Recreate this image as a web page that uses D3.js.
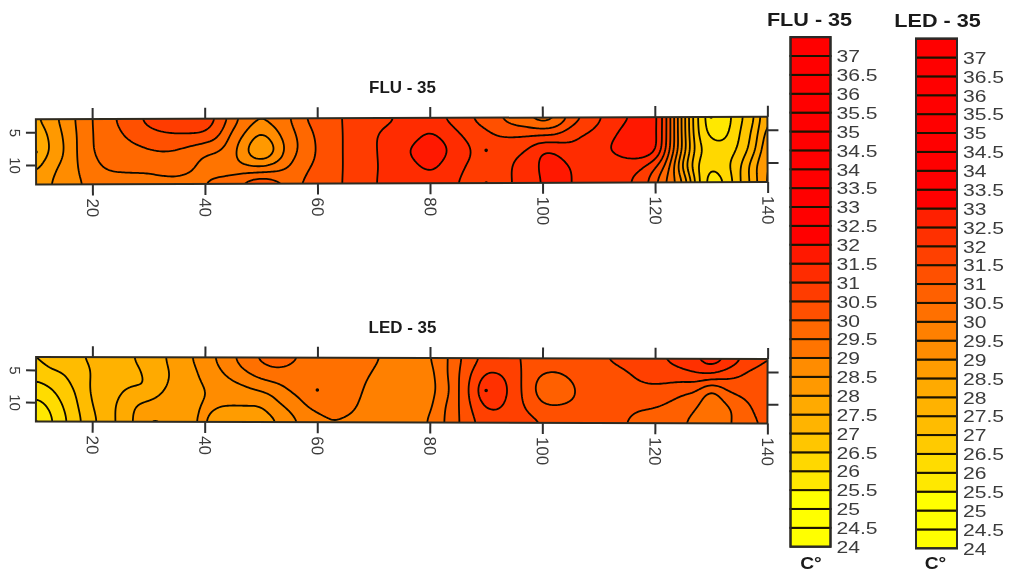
<!DOCTYPE html>
<html><head><meta charset="utf-8">
<script src="https://cdn.jsdelivr.net/npm/d3@7"></script>
<style>
html,body{margin:0;padding:0;background:#fff}
svg{display:block;filter:blur(.55px)}
text{font-family:"Liberation Sans",Arial,sans-serif;fill:#3c3c3c}
.b{font-weight:bold;fill:#1a1a1a}
</style></head><body><svg id="c" width="1011" height="573"></svg>
<script>
const xStart = 10, xStep = 2.5, depths = [3, 5.5, 8, 10.5, 13];
const xTicks = [20, 40, 60, 80, 100, 120, 140];
const yTicks = [5, 10];
const levels = [24,24.5,25,25.5,26,26.5,27,27.5,28,28.5,29,29.5,30,30.5,31,31.5,32,32.5,33,33.5,34,34.5,35,35.5,36,36.5,37];
const fluBands = ["#ffff00","#ffff00","#ffff00","#ffe800","#ffd800","#ffc600","#ffb400","#ffaa00","#ff9900","#ff8c00","#ff7400","#ff6800","#ff5000","#ff3c00","#ff2c00","#ff1800","#ff0000","#ff0000","#ff0000","#ff0000","#ff0000","#ff0000","#ff0000","#ff0000","#ff0000","#ff0000","#ff0000"];
const ledBands = ["#ffff00","#ffff00","#ffff00","#ffe800","#ffdc00","#ffca00","#ffbc00","#ffb200","#ffaa00","#ff9c00","#ff8c00","#ff8000","#ff7000","#ff6000","#ff5000","#ff4000","#ff3000","#ff2000","#ff0000","#ff0000","#ff0000","#ff0000","#ff0000","#ff0000","#ff0000","#ff0000","#ff0000"];

const fluRow0 = [27.9,28.3,28.65,29.1,29.5,29.8,30.1,30.35,30.65,30.85, 30.9,30.9,30.8,30.4,29.75,29.25,29.05,29.2,29.45,29.95, 30.2,30.35,30.55,30.7,30.8,30.95,31.05,31.2,31.25,31, 30.75,30.5,30.25,30,29.7,29.5,29.2,29.45,30.15,30.57, 30.93,31.2,31.45,31.7,31.75,30.2,28.3,26.5,25.7,25.7, 26.4,26.85,28.1];
const fluRow1 = [27.6,28.1,28.55,29.05,29.5,29.7,29.95,30.15,30.3,30.4, 30.45,30.45,30.4,30.05,29.35,28.9,28.4,28.85,29.3,29.7, 30.1,30.3,30.55,30.75,30.95,31.1,31.1,31.35,31.55,31.35, 31.05,30.8,30.6,30.45,30.4,30.4,30.4,30.48,30.8,31, 31.15,31.4,31.7,31.9,31.7,30.2,28.3,26.55,25.85,25.85, 26.5,27.1,28.3];
const fluRow2 = [27.55,28.05,28.5,29.05,29.5,29.6,29.75,29.85,29.95,30, 29.95,29.8,29.6,29.5,29.15,28.5,28,28.5,29.25,29.65, 30.05,30.3,30.55,30.75,30.95,31.15,31.35,31.65,31.85,31.6, 31.25,31,30.7,30.75,30.85,31.05,31.48,31.4,31.15,31.2, 31.35,31.55,31.8,31.9,31.65,30.1,28.35,26.7,26.25,26.2, 26.6,27.3,28.5];
const fluRow3 = [27.9,28.35,28.65,29,29.35,29.55,29.6,29.6,29.62,29.7, 29.7,29.55,29.35,29.25,29.2,29.1,29.05,29.25,29.52,29.9, 30.1,30.3,30.55,30.75,30.95,31.1,31.2,31.4,31.65,31.35, 31.1,30.9,30.75,30.8,31.05,31.25,31.6,31.7,31.48,31.3, 31.25,31.2,31.2,31.1,30.6,29.6,27.85,26.5,26.05,26.35, 26.9,27.8,28.6];
const fluRow4 = [28.2,28.5,28.7,28.95,29.1,29.2,29.25,29.3,29.3,29.32, 29.35,29.35,29.5,29.7,29.85,30.2,30.45,30.2,29.95,30.02, 30.2,30.35,30.55,30.75,30.95,31.15,31.15,31.1,31.15,31.1, 31,30.85,30.75,30.8,31.05,31.2,31.55,31.65,31.5,31.4, 31.35,31.2,31.05,30.8,30.1,29.3,28.55,26.7,25.7,26.05, 26.95,27.7,28.7];

const ledRow0 = [27,27.2,27.35,27.47,27.55,27.65,27.75,28.03,28.2,28.45, 28.7,28.98,29.25,29.6,29.95,30.3,30.6,30.7,30.6,30.45, 30.4,30.35,30.3,30.2,30.05,29.95,29.85,29.8,29.98,30.35, 30.9,31.3,31.65,31.6,31.53,31.45,31.4,31.35,31.35,31.38, 31.45,31.55,31.65,31.75,31.92,32.05,32.25,32.5,32.8,32.5, 32.05,31.8,31.52];
const ledRow1 = [26.7,26.9,27,27.3,27.53,27.65,27.8,27.9,28.1,28.4, 28.6,28.85,29.15,29.4,29.7,29.95,30.2,30.35,30.35,30.3, 30.25,30.22,30.2,30.1,29.97,29.8,29.65,29.7,29.85,30.35, 30.95,31.55,32.05,32.02,31.7,31.3,30.97,30.92,31.1,31.2, 31.28,31.35,31.45,31.6,31.7,31.75,31.8,31.9,31.92,31.7, 31.53,31.3,31.2];
const ledRow2 = [26.25,26.45,26.8,27.1,27.6,27.7,27.95,28.05,28.05,28.48, 28.65,28.8,29,29.1,29.25,29.4,29.55,29.7,30.03,30.2, 30.3,30.3,30.25,30.05,29.85,29.7,29.65,29.7,29.85,30.25, 30.95,31.7,32.4,32.25,31.75,31.25,30.75,30.6,30.9,31.15, 31.22,31.28,31.3,31.35,31.35,31.25,31.1,31,30.4,30.95, 31.15,31.25,31.3];
const ledRow3 = [25.8,26.1,26.55,27,27.5,27.8,28.1,28.47,28.7,28.8, 28.8,28.9,29.05,29.03,29,29,29,29.35,29.6,29.95, 30.15,30.25,30.2,29.95,29.75,29.6,29.6,29.7,29.9,30.45, 30.95,31.55,32.05,32.05,31.7,31.43,31.1,31.05,31.1,31.12, 31.15,31.15,31.1,31.05,31.02,30.9,30.75,30.52,30.1,30.4, 30.7,31.05,31.2];
const ledRow4 = [25.4,25.9,26.4,26.9,27.35,27.8,28.1,28.55,29.05,29, 28.9,28.95,29.05,28.8,28.7,28.7,28.7,28.95,29.3,29.6, 29.8,29.95,29.9,29.8,29.65,29.55,29.55,29.7,30.1,30.48, 30.95,31.4,31.7,31.75,31.7,31.65,31.5,31.4,31.35,31.3, 31.2,31.1,31,30.85,30.75,30.65,30.55,30.3,30.1,30.35, 30.7,30.95,31.05];

const fluDotX = [10, 90, 90, 130], fluDotDepth = [8, 8, 13, 3];
const ledDotX = [60, 90, 10], ledDotDepth = [8, 8, 13];

const svg = d3.select("#c");
const cr = (a,b,c,d,t)=>0.5*((2*b)+(c-a)*t+(2*a-5*b+4*c-d)*t*t+(3*b-a-3*c+d)*t*t*t);
function line(v,k){ // smooth a row for contouring
  const o=[]; const n=v.length;
  for(let i=0;i<n-1;i++) for(let j=0;j<k;j++)
    o.push(cr(v[Math.max(i-1,0)],v[i],v[i+1],v[Math.min(i+2,n-1)],j/k));
  o.push(v[n-1]); return o;
}
function plot(id,title,titleY,rows,bands,top,bot,deg,dotX,dotDepth){
  const k=8;
  const fineRows=rows.map(r=>line(r,k));
  const n=fineRows[0].length;
  const cols=d3.range(n).map(i=>line(fineRows.map(r=>r[i]),k));
  const m=cols[0].length;
  const grid=new Float64Array(n*m);
  for(let i=0;i<n;i++)for(let j=0;j<m;j++)grid[j*n+i]=cols[i][j];
  d3.blur2({data:grid,width:n,height:m},2.5,2);
  const xEnd=xStart+xStep*(rows[0].length-1);
  const x=d3.scaleLinear().domain([xStart,xEnd]).range([36,767.5]);
  const y=d3.scaleLinear().domain([depths[0],depths[depths.length-1]]).range([top,bot]);
  const fx=d3.scaleLinear().domain([0.5,n-0.5]).range(x.range());
  const fy=d3.scaleLinear().domain([0.5,m-0.5]).range(y.range());
  const path=d3.geoPath(d3.geoTransform({point(a,b){this.stream.point(fx(a),fy(b));}}));
  const cs=d3.contours().size([n,m]).thresholds(levels);
  const g=svg.append("g").attr("transform",`rotate(${deg} 402 ${(top+bot)/2})`);
  svg.append("defs").append("clipPath").attr("id",id).append("rect")
    .attr("x",36).attr("y",top).attr("width",731.5).attr("height",bot-top);
  const body=g.append("g").attr("clip-path",`url(#${id})`);
  const shapes=cs(Array.from(grid));
  body.selectAll("path.f").data(shapes).join("path").attr("class","f")
    .attr("d",path).attr("fill",(d,i)=>bands[i]).attr("stroke","none");
  body.selectAll("path.l").data(shapes.slice(1)).join("path").attr("class","l")
    .attr("d",path).attr("fill","none").attr("stroke","#0c0a00").attr("stroke-width",1.8);
  body.selectAll("circle").data(dotX).join("circle")
    .attr("cx",d=>x(d)).attr("cy",(d,i)=>y(dotDepth[i])).attr("r",1.8).attr("fill","#0c0a00");
  g.append("rect").attr("x",36).attr("y",top).attr("width",731.5).attr("height",bot-top)
    .attr("fill","none").attr("stroke","#2e2a20").attr("stroke-width",2);
  const sty=a=>{a.select(".domain").remove();
    a.selectAll(".tick line").attr("stroke","#2e2e2e").attr("stroke-width",2);};
  g.append("g").attr("transform",`translate(0,${top})`)
    .call(d3.axisTop(x).tickValues(xTicks).tickSize(11).tickFormat("")).call(sty);
  g.append("g").attr("transform",`translate(767.5,0)`)
    .call(d3.axisRight(y).tickValues(yTicks).tickSize(11).tickFormat("")).call(sty);
  g.append("g").attr("transform",`translate(0,${bot})`)
    .call(d3.axisBottom(x).tickValues(xTicks).tickSize(11)).call(sty)
    .call(a=>a.selectAll("text").attr("transform","translate(0,14) rotate(90)").attr("x",0).attr("y",0).attr("dy","0.35em")
      .style("text-anchor","start").attr("font-size",17));
  g.append("g").attr("transform",`translate(36,0)`)
    .call(d3.axisLeft(y).tickValues(yTicks).tickSize(10)).call(sty)
    .call(a=>a.selectAll("text").attr("transform","translate(-21,0) rotate(90)").attr("x",0).attr("y",0).attr("dy","0.35em")
      .style("text-anchor","middle").attr("font-size",15));
  svg.append("text").attr("class","b").attr("transform",`translate(402.5,${titleY}) scale(1.06,1)`)
    .attr("text-anchor","middle").attr("font-size",16).text(title);
}
function legend(title,bands,x0,x1,y24,y37,titleX,titleY,unitX,unitY,labelX){
  const y=d3.scaleLinear().domain([levels[0],levels[levels.length-1]]).range([y24,y37]);
  const step=0.5;
  const g=svg.append("g");
  g.selectAll("rect.band").data(levels).join("rect").attr("class","band")
    .attr("x",x0).attr("width",x1-x0).attr("y",d=>y(d+step)).attr("height",d=>y(d)-y(d+step))
    .attr("fill",(d,i)=>bands[i]).attr("stroke","#1c1400").attr("stroke-width",2);
  g.append("rect").attr("x",x0).attr("width",x1-x0).attr("y",y(levels[levels.length-1]+step)).attr("height",y24-y(levels[levels.length-1]+step))
    .attr("fill","none").attr("stroke","#2a2a2a").attr("stroke-width",2);
  g.append("g").attr("transform",`translate(${labelX},0)`)
    .call(d3.axisRight(y).tickValues(levels).tickSize(0).tickFormat(d=>String(d)))
    .call(a=>{a.select(".domain").remove();
      a.selectAll("text").attr("x",0).attr("dy","0.35em").attr("transform","scale(1.28,1)")
       .style("text-anchor","start").attr("font-size",16.5);});
  svg.append("text").attr("class","b").attr("transform",`translate(${titleX},${titleY}) scale(1.2,1)`)
    .attr("text-anchor","middle").attr("font-size",18).attr("dy","0.35em").text(title);
  svg.append("text").attr("class","b").attr("transform",`translate(${unitX},${unitY}) scale(1.2,1)`).attr("text-anchor","middle")
    .attr("font-size",16).text("C°");
}
plot("p1","FLU - 35",93,[fluRow0,fluRow1,fluRow2,fluRow3,fluRow4],fluBands,118,183.3,-0.2,fluDotX,fluDotDepth);
plot("p2","LED - 35",333,[ledRow0,ledRow1,ledRow2,ledRow3,ledRow4],ledBands,358,422.5,0.16,ledDotX,ledDotDepth);
legend("FLU - 35",fluBands,790.5,830.5,546.7,56,809.5,20,811,569,836.5);
legend("LED - 35",ledBands,916,957,548.3,57.5,937.5,21,935.5,569,963);
</script></body></html>
